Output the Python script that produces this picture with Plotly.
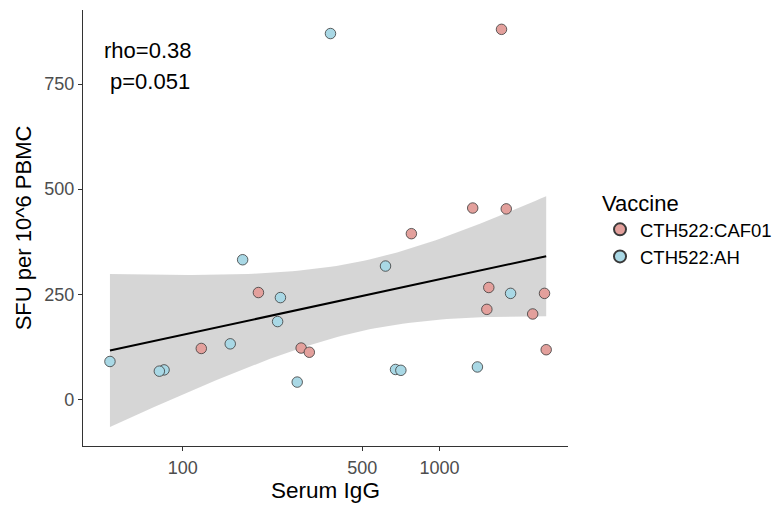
import numpy as np
import plotly.graph_objects as go

# Data
caf01_igg = [1744, 1347, 1820, 777, 1556, 2565, 197, 1529, 2307, 2604, 289, 311, 118]
caf01_sfu = [880, 455, 453, 394, 266, 252, 254, 214, 203, 118, 122, 112, 121]
ah_igg = [376, 171, 616, 1892, 240, 1405, 674, 707, 279, 234, 153, 84.5, 81, 52]
ah_sfu = [870, 332, 317, 252, 242, 77, 71, 69, 41, 185, 132, 70, 67, 90]
x_ticks = [100, 500, 1000]
y_ticks = [0, 250, 500, 750]
annot_lines = ["rho=0.38", "p=0.051"]

FONT = "Liberation Sans, Arial, sans-serif"

# Linear fit on log10(x) with 95% CI (like geom_smooth(method="lm"))
xa = np.log10(np.array(caf01_igg + ah_igg, dtype=float))
ya = np.array(caf01_sfu + ah_sfu, dtype=float)
n = len(xa)
b, a = np.polyfit(xa, ya, 1)
resid = ya - (a + b * xa)
s = np.sqrt(np.sum(resid ** 2) / (n - 2))
xm = xa.mean()
sxx = np.sum((xa - xm) ** 2)
tq = 2.0595  # t(0.975, df=25)
xg = np.linspace(xa.min(), xa.max(), 80)
yg = a + b * xg
se = s * np.sqrt(1.0 / n + (xg - xm) ** 2 / sxx)
lo = yg - tq * se
hi = yg + tq * se
xg_lin = 10 ** xg

fig = go.Figure()
fig.add_trace(go.Scatter(
    x=np.concatenate([xg_lin, xg_lin[::-1]]),
    y=np.concatenate([hi, lo[::-1]]),
    fill="toself", fillcolor="rgba(153,153,153,0.4)", line=dict(width=0),
    mode="lines", showlegend=False, hoverinfo="skip"))
fig.add_trace(go.Scatter(x=xg_lin, y=yg, mode="lines",
                         line=dict(color="black", width=2), showlegend=False))
fig.add_trace(go.Scatter(x=caf01_igg, y=caf01_sfu, mode="markers", name="CTH522:CAF01",
                         marker=dict(size=10.5, color="#E3A09C",
                                     line=dict(color="#3a3a3a", width=0.8))))
fig.add_trace(go.Scatter(x=ah_igg, y=ah_sfu, mode="markers", name="CTH522:AH",
                         marker=dict(size=10.5, color="#A9D8E5",
                                     line=dict(color="#3a3a3a", width=0.8))))

fig.add_annotation(x=0.134, y=0.908, xref="paper", yref="paper", text=annot_lines[0],
                   xanchor="center", yanchor="middle",
                   showarrow=False, font=dict(size=22, color="black", family=FONT))
fig.add_annotation(x=0.138, y=0.835, xref="paper", yref="paper", text=annot_lines[1],
                   xanchor="center", yanchor="middle",
                   showarrow=False, font=dict(size=22, color="black", family=FONT))

lx0 = np.log10(min(caf01_igg + ah_igg))
lx1 = np.log10(max(caf01_igg + ah_igg))
pad = 0.05 * (lx1 - lx0)

# page body has an 8px margin, so the figure is sized/offset to compensate
fig.update_layout(
    width=774, height=501,
    margin=dict(l=75, r=214, t=2, b=63),
    plot_bgcolor="white", paper_bgcolor="white",
    font=dict(family=FONT, size=18, color="#4D4D4D"),
    legend=dict(title=dict(text="Vaccine", font=dict(size=22, color="black", family=FONT)),
                font=dict(size=18.5, color="black", family=FONT),
                x=1.066, y=0.605, xanchor="left", yanchor="top",
                tracegroupgap=0, itemsizing="constant"),
    xaxis=dict(type="log", range=[lx0 - pad - 0.02, lx1 + pad], automargin=False,
               tickvals=x_ticks, ticktext=[str(v) for v in x_ticks],
               showgrid=False, zeroline=False, showline=True, linecolor="#333333",
               linewidth=1.2, ticks="outside", ticklen=4, tickcolor="#333333",
               ticklabelstandoff=1,
               tickfont=dict(size=18, color="#4D4D4D", family=FONT),
               title=dict(text="Serum IgG", font=dict(size=22.5, color="black", family=FONT), standoff=0)),
    yaxis=dict(range=[-111, 926], tickvals=y_ticks, automargin=False,
               showgrid=False, zeroline=False, showline=True, linecolor="#333333",
               linewidth=1.2, ticks="outside", ticklen=4, tickcolor="#333333",
               tickfont=dict(size=18, color="#4D4D4D", family=FONT),
               title=dict(text="SFU per 10^6 PBMC", font=dict(size=22, color="black", family=FONT), standoff=6)),
)

fig.write_html("out.html")
